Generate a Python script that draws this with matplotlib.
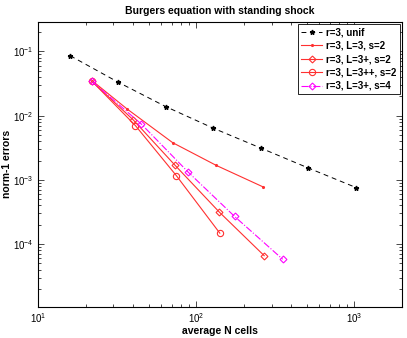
import matplotlib
matplotlib.use('Agg')
import matplotlib.pyplot as plt

plt.rcParams['font.family'] = ['Liberation Sans', 'DejaVu Sans']
plt.rcParams['font.size'] = 7

# values
n_unif = [16, 32, 64, 128, 256, 512, 1024]
e_unif = [0.0857, 0.0334, 0.0139, 0.0064, 0.00313, 0.00153, 0.00076]

n_l3 = [22, 36.6, 71, 134, 264]
e_l3 = [0.035, 0.0127, 0.0038, 0.00168, 0.00078]

n_l3p = [22, 40, 73, 140, 269]
e_l3p = [0.0341, 0.0086, 0.00172, 0.000315, 6.6e-5]

n_l3pp = [22, 41.3, 75, 141]
e_l3pp = [0.0341, 0.0070, 0.00116, 0.000148]

n_s4 = [22, 45, 89, 175, 352]
e_s4 = [0.0341, 0.0074, 0.00132, 0.000269, 5.8e-5]

red = '#ff3030'

fig = plt.figure(figsize=(4.07, 3.38), dpi=100)
ax = fig.add_axes([0.0934, 0.092, 0.8943, 0.843])

ax.loglog(n_unif, e_unif, 'k--', marker='*', ms=3.5, lw=0.7, dashes=(5, 4),
          label='r=3, unif')
ax.loglog(n_l3, e_l3, '-', color=red, marker='.', ms=2.5, lw=0.8,
          label='r=3, L=3, s=2')
ax.loglog(n_l3p, e_l3p, '-', color=red, marker='D', ms=3.5, mfc='none',
          mew=0.8, lw=0.8, label='r=3, L=3+, s=2')
ax.loglog(n_l3pp, e_l3pp, '-', color=red, marker='o', ms=4.5, mfc='none',
          mew=0.8, lw=0.8, label='r=3, L=3++, s=2')
ax.loglog(n_s4, e_s4, '-.', color='#ff00ff', marker='D', ms=3.5, mfc='none',
          mew=0.8, lw=0.8, label='r=3, L=3+, s=4')

ax.set_xlim(10, 2000)
ax.set_ylim(1.05e-5, 10 ** -0.54)
ax.tick_params(which='both', direction='in', top=True, right=True, width=0.5,
               labelsize=7, pad=3)
ax.tick_params(which='major', length=4)
ax.tick_params(which='minor', length=2)
for s in ax.spines.values():
    s.set_linewidth(0.8)

ax.set_title('Burgers equation with standing shock', fontweight='bold', fontsize=7.5,
             pad=6)
ax.set_xlabel('average N cells', fontweight='bold', fontsize=7.5, labelpad=1)
ax.set_ylabel('norm-1 errors', fontweight='bold', fontsize=7.5, labelpad=1)

leg = ax.legend(loc='upper right', fancybox=False, framealpha=1,
                edgecolor='k', borderaxespad=0.25, handlelength=2.2,
                handletextpad=0.4, labelspacing=0.35, borderpad=0.3,
                prop={'weight': 'bold', 'size': 7})
leg.get_frame().set_linewidth(0.6)

fig.savefig('out.png', dpi=100)
